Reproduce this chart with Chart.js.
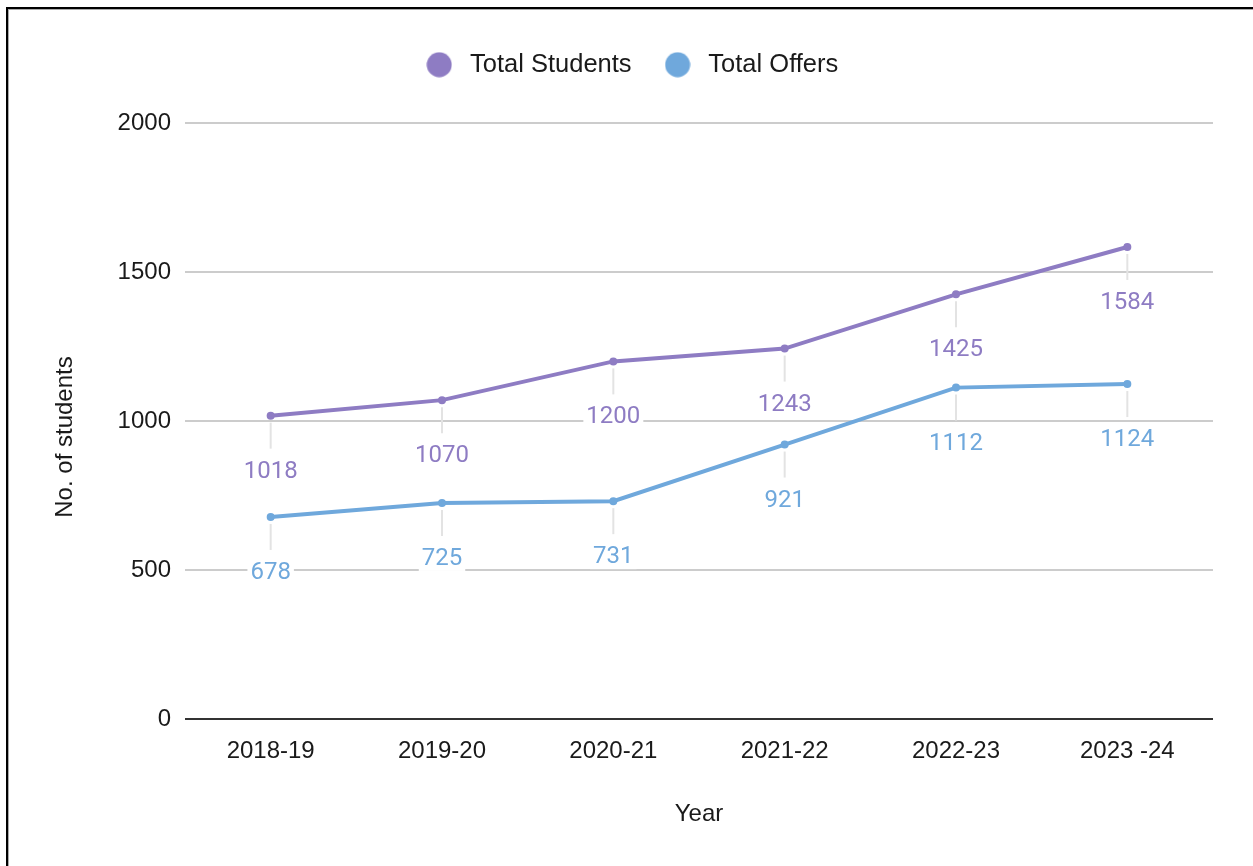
<!DOCTYPE html>
<html>
<head>
<meta charset="utf-8">
<script src="https://cdn.jsdelivr.net/npm/chart.js@4"></script>
<style>
html,body{margin:0;padding:0;background:#fff;}
#wrap{position:relative;width:1253px;height:866px;}
#frame{position:absolute;left:6px;top:7px;right:0;bottom:0;border-left:2px solid #000;border-top:2px solid #000;box-shadow:inset 1px 1px 0 #aaa;pointer-events:none;}
</style>
</head>
<body>
<div id="wrap"><canvas id="c"></canvas><div id="frame"></div></div>
<script>
// ---- data ----
const years = ['2018-19', '2019-20', '2020-21', '2021-22', '2022-23', '2023 -24'];
const totalStudents = [1018, 1070, 1200, 1243, 1425, 1584];
const totalOffers = [678, 725, 731, 921, 1112, 1124];
const seriesNames = ['Total Students', 'Total Offers'];
const yMin = 0, yMax = 2000, yStep = 500;
const xTitle = 'Year';
const yTitle = 'No. of students';

// ---- style ----
const colors = ['#8e7cc3', '#6fa8dc'];
const FONT = "'Liberation Sans', Arial, sans-serif";
Chart.defaults.font.family = FONT;
Chart.defaults.color = '#1a1a1a';

function makeDot(color) {
  const c = document.createElement('canvas');
  c.width = 26; c.height = 26;
  const g = c.getContext('2d');
  g.fillStyle = color;
  g.beginPath(); g.arc(13, 13, 12.5, 0, Math.PI * 2); g.fill();
  return c;
}
const dots = colors.map(makeDot);

const pointLabels = {
  id: 'pointLabels',
  afterDatasetsDraw(chart) {
    const ctx = chart.ctx;
    chart.data.datasets.forEach((ds, di) => {
      const meta = chart.getDatasetMeta(di);
      meta.data.forEach((pt, i) => {
        const x = pt.x, y = pt.y;
        ctx.save();
        ctx.strokeStyle = '#e3e3e3';
        ctx.lineWidth = 2;
        ctx.beginPath();
        ctx.moveTo(x, y + 7);
        ctx.lineTo(x, y + 33);
        ctx.stroke();
        ctx.font = "24px Roboto";
        const txt = String(ds.data[i]);
        const w = ctx.measureText(txt).width;
        const cy = y + 56;
        ctx.fillStyle = '#fff';
        ctx.fillRect(x - w / 2 - 3, cy - 12, w + 6, 24);
        ctx.fillStyle = ds.borderColor;
        ctx.textAlign = 'center';
        ctx.textBaseline = 'middle';
        ctx.fillText(txt, x, cy);
        ctx.restore();
      });
    });
  }
};

const yTitlePlugin = {
  id: 'yTitle',
  afterDraw(chart) {
    const ctx = chart.ctx;
    ctx.save();
    ctx.translate(65, 437);
    ctx.rotate(-Math.PI / 2);
    ctx.font = "24px " + FONT;
    ctx.fillStyle = '#1a1a1a';
    ctx.textAlign = 'center';
    ctx.textBaseline = 'middle';
    ctx.fillText(yTitle, 0, 0);
    ctx.restore();
  }
};

new Chart(document.getElementById('c'), {
  type: 'line',
  data: {
    labels: years,
    datasets: [
      { label: seriesNames[0], data: totalStudents, borderColor: colors[0], backgroundColor: colors[0],
        borderWidth: 4, pointRadius: 4, pointBorderWidth: 0, tension: 0 },
      { label: seriesNames[1], data: totalOffers, borderColor: colors[1], backgroundColor: colors[1],
        borderWidth: 4, pointRadius: 4, pointBorderWidth: 0, tension: 0 }
    ]
  },
  options: {
    responsive: true,
    maintainAspectRatio: false,
    animation: false,
    layout: { padding: { left: 46.5, right: 40, top: 24, bottom: 0 } },
    plugins: {
      tooltip: { enabled: false },
      legend: {
        position: 'top',
        labels: {
          usePointStyle: true,
          pointStyleWidth: 36,
          padding: 28,
          color: '#1a1a1a',
          font: { family: FONT, size: 25.5 },
          generateLabels(chart) {
            const items = Chart.defaults.plugins.legend.labels.generateLabels(chart);
            items.forEach((it, i) => { it.pointStyle = dots[i]; });
            return items;
          }
        }
      },
      subtitle: {
        display: true, text: '', position: 'top', weight: 500,
        padding: { top: 0, bottom: 23.5 }, font: { size: 10 }
      }
    },
    scales: {
      x: {
        offset: true,
        grid: { display: false },
        border: { display: false },
        ticks: { padding: 10, maxRotation: 0, autoSkip: false, color: '#1a1a1a', font: { family: FONT, size: 24 } },
        title: { display: true, text: xTitle, color: '#1a1a1a', font: { family: FONT, size: 24 }, padding: { top: 0, bottom: 37 } },
        afterFit(scale) { scale.height = 147; }
      },
      y: {
        min: yMin, max: yMax,
        border: { display: false },
        grid: {
          drawTicks: false,
          lineWidth: 2,
          color: (c) => (c.tick && c.tick.value === 0 ? '#333' : '#cccccc')
        },
        ticks: { stepSize: yStep, padding: 14, color: '#1a1a1a', font: { family: FONT, size: 24 },
          callback: (v) => String(v) },
        afterFit(scale) { scale.width = 138.5; }
      }
    }
  },
  plugins: [pointLabels, yTitlePlugin]
});
</script>
</body>
</html>
